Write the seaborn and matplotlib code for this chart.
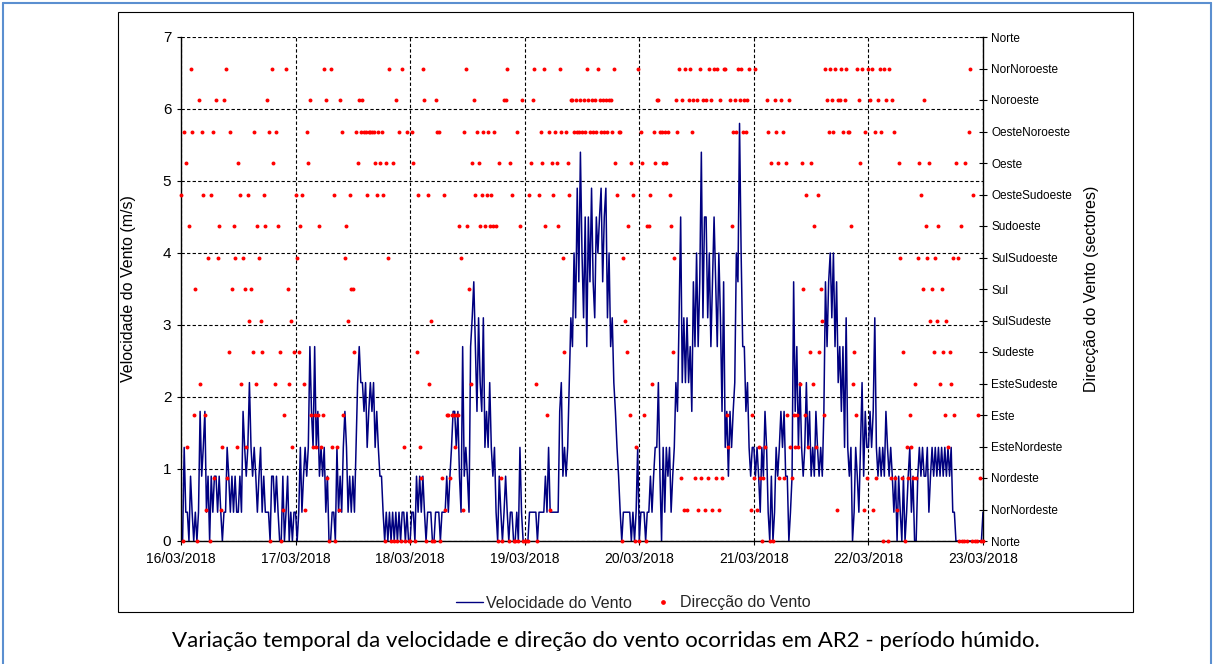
import matplotlib
matplotlib.use("Agg")
import matplotlib.pyplot as plt
import matplotlib.dates as mdates
from matplotlib.lines import Line2D
from matplotlib.patches import Rectangle
import pandas as pd
import seaborn as sns

# ---------------- data (20-minute readings, m/s and sector index 0..15) -------------
speed_16 = [0,0,1.3,0.4,0.4,0, 0.9,0.4,0,0.4,0,0.4, 1.8,0.9,1.3,1.8,0.4,0.9,
            0,0.9,0.4,0.9,0.9,0.4, 0.9,0.4,0,0.4,0.4,1.3, 0.9,0.4,0.9,0.4,0.9,0.4,
            0.4,0.9,0.4,1.8,1.3,0.9, 1.3,2.2,1.3,0.9,1.3,0.9, 0.4,0.9,1.3,0.4,0.9,0.4,
            0.4,0.4,0,0.9,0.9,0.4, 0.9,0.4,0,0,0.9,0, 0.4,0.9,0,0.4,0,0.4]
speed_17 = [0.4,0,0.4,1.3,0.4,0.9, 1.3,0.9,1.3,2.7,1.8,1.3, 2.7,1.3,1.8,0.9,1.3,0.9,
            1.3,0.4,0.9,0,0,0.4, 0.4,0,1.3,0.4,0.9,0.4, 1.3,1.8,1.3,0.4,0.9,0.4,
            0.9,0.4,1.3,2.2,2.7,2.2, 2.2,1.8,2.2,1.3,1.8,2.2, 1.8,2.2,1.3,1.8,1.3,0.9,
            0.9,0.4,0,0.4,0,0.4, 0,0.4,0,0.4,0,0.4, 0,0.4,0.4,0,0.4,0]
speed_18 = [0,0.4,0.4,0,0.9,0.4, 0.9,0.4,0.9,0.4,0,0.4, 0.4,0.4,0,0,0.4,0.4,
            0.4,0,0.4,0.4,0.4,0.9, 0.4,0.9,1.3,1.8,1.8,1.3, 1.8,0.9,0.4,2.7,0.9,1.3,
            0.9,0.4,2.7,3.1,3.6,2.7, 1.8,3.1,2.2,1.8,3.1,1.3, 1.8,1.3,2.2,1.3,0.9,1.3,
            0.4,0,0.9,0.4,0,0.4, 0.9,0.4,0,0.4,0.4,0, 0,0.4,0,1.3,0.4,0]
speed_19 = [0,0,0,0.4,0.4,0.4, 0.4,0.4,0,0.4,0.4,0.4, 0.4,0.9,0.4,1.3,0.4,0.4,
            0.4,0.4,0.4,0.4,1.8,2.2, 0.9,1.3,0.9,1.3,2.2,3.1, 2.7,4.0,3.1,4.9,3.6,5.4,
            4.0,3.1,4.5,2.7,4.5,3.6, 4.9,3.6,3.1,4.5,4.0,4.5, 4.9,3.6,4.5,4.9,3.1,4.0,
            2.7,3.1,2.2,1.8,1.3,0.9, 0.4,0,0.4,0.4,0.4,0.4, 0.4,0,0.4,0,0.4,1.3]
speed_20 = [0,0.4,0.4,0.4,0,0.4, 0.4,0.9,0.4,0.9,1.3,1.3, 2.2,0.9,0,1.3,0.4,1.3,
            0.9,1.3,0.4,0.9,1.3,2.2, 1.8,3.1,4.5,2.2,3.1,2.2, 3.1,2.2,2.7,1.8,3.6,2.7,
            4.0,2.7,3.6,5.4,3.1,4.5, 4.5,3.1,4.0,2.7,3.6,4.5, 3.6,2.7,4.0,3.1,1.8,3.6,
            1.3,1.8,0.9,1.8,1.3,1.8, 2.2,4.0,3.6,5.8,4.0,2.7, 2.7,1.8,2.2,1.3,0.9,1.3]
speed_21 = [1.3,0.9,1.3,0.9,0.4,1.3, 0.9,1.8,1.3,0.4,0,0.9, 0,0.4,1.3,0.9,1.3,1.8,
            1.3,1.8,0.9,0.9,0,0.4, 0.9,3.6,1.8,2.7,1.3,2.2, 1.3,0.9,1.3,2.2,1.3,1.8,
            0.9,1.3,0.9,1.8,1.3,0.9, 1.3,0.9,1.8,3.6,2.7,3.6, 4.0,3.1,4.0,2.7,3.6,2.2,
            2.7,1.8,2.7,1.3,3.1,1.3, 0.9,1.3,0,0.4,1.3,0.9, 0.4,1.3,2.2,0.9,1.8,1.3]
speed_22 = [1.3,1.8,1.3,1.8,3.1,1.3, 0.9,1.3,0.9,1.3,0.9,1.8, 1.3,0.9,1.3,0.9,0.4,0.9,
            0,0.9,0.4,0,0.9,0, 0.4,0.9,1.3,0.4,0.9,0, 0,0.9,1.3,0.9,1.3,0.9,
            0.9,1.3,0.4,0.9,1.3,0.9, 1.3,0.9,1.3,0.9,1.3,0.9, 1.3,0.9,1.3,0.9,1.3,0.4,
            0.4,0,0,0,0,0, 0,0,0,0,0,0, 0,0,0,0,0,0]
speed_23 = [0.4]

dir_16 = [11,0,13,12,3,10, 15,13,4,8,0,14, 5,13,11,4,1,9, 0,11,13,2,14,9,
          10,1,3,14,15,2, 6,13,8,10,9,3, 12,11,5,9,8,3, 11,7,8,6,13,5,
          10,9,7,6,11,10, 14,13,0,15,12,5, 13,10,6,0,1,4, 15,8,5,7,3,6]
dir_17 = [11,9,6,10,11,5, 1,13,12,14,4,3, 4,3,4,10,3,4, 15,14,2,0,15,3,
          11,0,3,1,14,13, 4,9,10,7,11,8, 8,6,13,12,14,13, 14,13,13,11,13,13,
          13,13,12,11,13,12, 13,11,0,12,9,15, 0,12,0,14,0,13, 0,15,3,0,13,0]
dir_18 = [0,13,12,0,6,11, 3,2,15,14,0,11, 5,7,0,0,14,13, 13,0,2,11,1,4,
          4,2,4,4,3,4, 4,10,9,1,13,15, 10,8,5,12,14,11, 13,12,10,11,13,10,
          11,13,10,11,10,13, 10,0,12,2,0,14, 14,15,0,12,11,0, 0,13,0,10,14,0]
dir_19 = [0,0,0,11,12,14, 15,5,0,11,13,12, 15,10,4,13,1,12, 11,13,12,10,15,13,
          9,6,13,12,11,14, 14,13,14,13,13,14, 13,14,13,15,14,13, 14,13,14,13,15,14,
          13,14,13,14,13,14, 14,13,15,12,11,13, 13,0,9,7,6,10, 4,12,11,0,3,15]
dir_20 = [0,13,12,4,0,10, 10,11,5,13,12,14, 14,13,13,12,13,12, 13,11,10,6,9,14,
          13,15,2,14,1,15, 1,14,15,13,14,2, 14,1,15,2,14,1, 14,2,15,14,1,15,
          2,15,1,14,2,15, 15,4,3,14,10,13, 14,13,15,14,15,13, 14,13,14,15,1,4]
dir_21 = [2,15,1,3,2,0, 2,3,14,13,0,12, 0,14,13,12,2,14, 13,2,12,4,14,3,
          2,4,3,4,3,5, 12,8,4,11,3,6, 12,5,10,3,11,6, 8,7,4,15,14,13,
          15,14,13,15,1,14, 14,15,13,14,15,13, 13,10,5,6,4,15, 14,12,15,1,13,2]
dir_22 = [15,14,15,1,13,2, 14,15,13,0,15,14, 0,15,2,14,13,2, 1,12,9,2,6,0,
          3,2,4,3,2,5, 2,9,12,11,8,14, 10,9,12,7,8,6, 9,7,10,5,8,6,
          4,7,3,6,5,9, 4,12,9,0,10,0, 0,12,0,13,15,0, 11,0,0,4,2,0]
dir_23 = [0]

speed_ticks = [0, 1, 2, 3, 4, 5, 6, 7]
sector_labels = ["Norte", "NorNordeste", "Nordeste", "EsteNordeste", "Este",
                 "EsteSudeste", "Sudeste", "SulSudeste", "Sul", "SulSudoeste",
                 "Sudoeste", "OesteSudoeste", "Oeste", "OesteNoroeste", "Noroeste",
                 "NorNoroeste", "Norte"]

speed = speed_16 + speed_17 + speed_18 + speed_19 + speed_20 + speed_21 + speed_22 + speed_23
direction = dir_16 + dir_17 + dir_18 + dir_19 + dir_20 + dir_21 + dir_22 + dir_23
n = min(len(speed), len(direction))
speed, direction = speed[:n], direction[:n]
times = pd.date_range("2018-03-16 00:00", periods=n, freq="20min")
df = pd.DataFrame({"tempo": times, "velocidade": speed, "direccao": direction})

# ---------------- figure -------------
sns.set_style("ticks")
plt.rcParams['font.family'] = ['Liberation Sans', 'DejaVu Sans']

W, H = 1214, 664
fig = plt.figure(figsize=(W / 100, H / 100), dpi=100)
fig.patch.set_facecolor("white")

ax = fig.add_axes([181 / W, 1 - 541 / H, 802 / W, 504 / H])
sns.lineplot(data=df, x="tempo", y="velocidade", ax=ax, color="#000080",
             linewidth=1.1, legend=False)
ax2 = ax.twinx()
sns.scatterplot(data=df, x="tempo", y="direccao", ax=ax2, color="#FF0000",
                s=8, linewidth=0, marker="o", legend=False, clip_on=False, zorder=5)

ax.set_xlim(pd.Timestamp("2018-03-16"), pd.Timestamp("2018-03-23"))
ax.set_ylim(0, 7)
ax2.set_ylim(0, 16)
ax.set_yticks(speed_ticks)
ax.set_yticklabels([str(t) for t in speed_ticks])
ax2.set_yticks(range(len(sector_labels)))
ax2.set_yticklabels(sector_labels)

ax.xaxis.set_major_locator(mdates.DayLocator())
ax.xaxis.set_major_formatter(mdates.DateFormatter("%d/%m/%Y"))

ax.grid(True, color="black", linestyle=(0, (3, 2)), linewidth=0.8)
ax.set_axisbelow(True)

for a in (ax, ax2):
    a.spines["top"].set_visible(False)
ax.spines["right"].set_visible(False)
ax2.spines["left"].set_visible(False)
ax2.spines["bottom"].set_visible(False)
for sp in (ax.spines["left"], ax.spines["bottom"], ax2.spines["right"]):
    sp.set_color("black")
    sp.set_linewidth(1.0)

ax.tick_params(axis="y", direction="out", length=3, width=0.8, pad=4,
               labelsize=11, colors="black")
ax.tick_params(axis="x", direction="out", length=3, width=0.8, pad=5,
               labelsize=10, colors="black")
ax2.tick_params(axis="y", direction="inout", length=6, width=0.8, pad=3,
                labelsize=8.5, colors="black")

ax.set_xlabel("")
ax.set_ylabel("Velocidade do Vento (m/s)", fontsize=11.5, color="black")
ax.yaxis.set_label_coords(-0.056, 0.5)
ax2.set_ylabel("Direcção do Vento (sectores)", fontsize=11.5, color="black")
ax2.yaxis.set_label_coords(1.126, 0.5)

handles = [Line2D([], [], color="#000080", linewidth=1.0),
           Line2D([], [], color="#FF0000", marker="o", linestyle="none", markersize=2.4)]
fig.legend(handles, ["Velocidade do Vento", "Direcção do Vento"],
           loc="center", bbox_to_anchor=(633 / W, 1 - 603 / H), ncol=2,
           frameon=False, fontsize=11.5, handlelength=1.7, handletextpad=0.2,
           columnspacing=1.1)

# chart frame and page border
fig.add_artist(Rectangle((118 / W, 1 - 612 / H), (1133 - 118) / W, (612 - 12) / H,
                         transform=fig.transFigure, fill=False,
                         edgecolor="black", linewidth=0.8))
border = "#5B8FD0"
fig.add_artist(Line2D([3 / W, 3 / W], [0, 1 - 3 / H], transform=fig.transFigure,
                      color=border, linewidth=1.5))
fig.add_artist(Line2D([3 / W, 1211 / W], [1 - 3 / H, 1 - 3 / H],
                      transform=fig.transFigure, color=border, linewidth=1.5))
fig.add_artist(Line2D([1211 / W, 1211 / W], [0, 1 - 3 / H],
                      transform=fig.transFigure, color=border, linewidth=1.5))

fig.text(606 / W, 1 - 641 / H,
         "Variação temporal da velocidade e direção do vento ocorridas em AR2 - período húmido.",
         ha="center", va="center", fontsize=16,
         family=["Lato", "DejaVu Sans"], color="black")

fig.savefig("out.png", dpi=100, facecolor="white")
